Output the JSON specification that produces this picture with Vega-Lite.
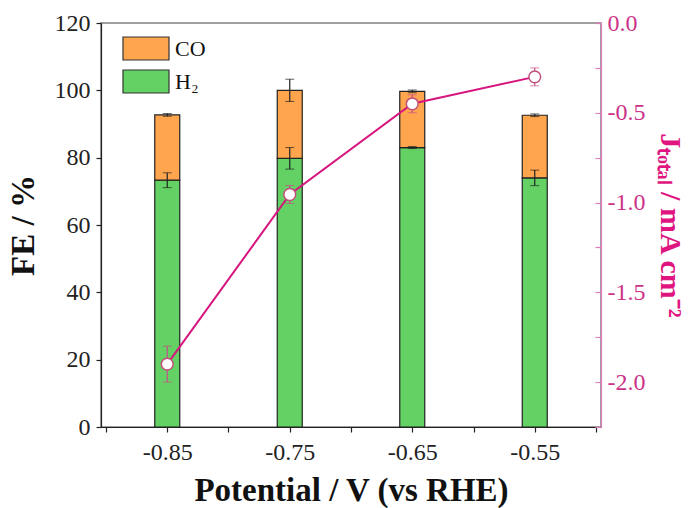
{
  "$schema": "https://vega.github.io/schema/vega-lite/v6.json",
  "width": 500,
  "height": 404,
  "autosize": "none",
  "padding": {"left": 101, "top": 23, "right": 96, "bottom": 81},
  "background": "white",
  "config": {
    "font": "Liberation Serif",
    "view": {"stroke": "#808080", "strokeWidth": 1.5},
    "axis": {"grid": false, "labelFont": "Liberation Serif", "titleFont": "Liberation Serif", "labelFontSize": 24, "labelColor": "#222", "domainColor": "#222", "tickColor": "#222", "titleColor": "#111", "domainWidth": 1.2, "tickWidth": 1.2}
  },
  "datasets": {
    "bars": [
      {"potential": -0.85, "gas": "H₂", "fe": 73.3},
      {"potential": -0.85, "gas": "CO", "fe": 19.4},
      {"potential": -0.75, "gas": "H₂", "fe": 79.8},
      {"potential": -0.75, "gas": "CO", "fe": 20.2},
      {"potential": -0.65, "gas": "H₂", "fe": 83.0},
      {"potential": -0.65, "gas": "CO", "fe": 16.7},
      {"potential": -0.55, "gas": "H₂", "fe": 74.0},
      {"potential": -0.55, "gas": "CO", "fe": 18.6}
    ],
    "barerr": [
      {"potential": -0.85, "fe": 92.7, "err": 0.4},
      {"potential": -0.85, "fe": 73.3, "err": 2.2},
      {"potential": -0.75, "fe": 100.0, "err": 3.3},
      {"potential": -0.75, "fe": 79.8, "err": 3.2},
      {"potential": -0.65, "fe": 99.7, "err": 0.4},
      {"potential": -0.65, "fe": 83.0, "err": 0.3},
      {"potential": -0.55, "fe": 92.6, "err": 0.4},
      {"potential": -0.55, "fe": 74.0, "err": 2.3}
    ],
    "jtotal": [
      {"potential": -0.85, "j": -1.9, "err": 0.1},
      {"potential": -0.75, "j": -0.955, "err": 0.05},
      {"potential": -0.65, "j": -0.45, "err": 0.05},
      {"potential": -0.55, "j": -0.3, "err": 0.05}
    ]
  },
  "layer": [
    {
      "layer": [
        {
          "data": {"name": "bars"},
          "mark": {"type": "bar", "size": 25, "stroke": "#222", "strokeWidth": 1.2},
          "encoding": {
            "x": {
              "field": "potential", "type": "quantitative",
              "title": "Potential / V (vs RHE)",
              "scale": {"domain": [-0.9, -0.5], "nice": false, "zero": false},
              "axis": {
                "values": [-0.9, -0.875, -0.85, -0.825, -0.8, -0.775, -0.75, -0.725, -0.7, -0.675, -0.65, -0.625, -0.6, -0.575, -0.55, -0.525, -0.5],
                "labelExpr": "indexof(['0.85','0.75','0.65','0.55'], format(abs(datum.value), '.2f')) >= 0 ? '-' + format(abs(datum.value), '.2f') : ''",
                "tickSize": 5,
                "labelPadding": 8,
                "titleFontSize": 33,
                "titleFontWeight": "bold",
                "titlePadding": 10
              }
            },
            "y": {
              "field": "fe", "type": "quantitative", "stack": "zero",
              "title": "FE / %",
              "scale": {"domain": [0, 120], "nice": false},
              "axis": {
                "values": [0, 10, 20, 30, 40, 50, 60, 70, 80, 90, 100, 110, 120],
                "labelExpr": "datum.value % 20 == 0 ? datum.label : ''",
                "tickSize": 5,
                "labelPadding": 6,
                "titleFontSize": 33,
                "titleFontWeight": "bold",
                "titlePadding": 14
              }
            },
            "color": {
              "field": "gas", "type": "nominal",
              "scale": {"domain": ["CO", "H₂"], "range": ["#FFA54D", "#63D163"]},
              "legend": {
                "orient": "none", "legendX": 21, "legendY": 13,
                "title": null,
                "symbolType": "M-1,-1H3V1H-1Z",
                "symbolSize": 529,
                "symbolStrokeColor": "#333",
                "symbolStrokeWidth": 1.2,
                "labelFontSize": 22,
                "labelFont": "Liberation Serif",
                "labelColor": "#111",
                "labelOffset": 28,
                "rowPadding": 4
              }
            },
            "order": {"field": "gas", "sort": "descending"}
          }
        },
        {
          "data": {"name": "barerr"},
          "mark": {"type": "errorbar", "color": "#222", "ticks": {"size": 9, "color": "#222"}, "rule": {"strokeWidth": 1.2}},
          "encoding": {
            "x": {"field": "potential", "type": "quantitative", "title": "Potential / V (vs RHE)"},
            "y": {"field": "fe", "type": "quantitative", "title": "FE / %"},
            "yError": {"field": "err"}
          }
        }
      ]
    },
    {
      "layer": [
        {
          "data": {"name": "jtotal"},
          "mark": {"type": "line", "color": "#D6157E", "strokeWidth": 2},
          "encoding": {
            "x": {"field": "potential", "type": "quantitative", "title": "Potential / V (vs RHE)"},
            "y": {
              "field": "j", "type": "quantitative",
              "title": "Jₜₒₜₐₗ / mA cm⁻²",
              "scale": {"domain": [-2.25, 0], "nice": false, "zero": false},
              "axis": {
                "orient": "right",
                "values": [-2.25, -2, -1.75, -1.5, -1.25, -1, -0.75, -0.5, -0.25, 0],
                "labelExpr": "abs(datum.value*2 - round(datum.value*2)) < 0.001 ? (datum.value < 0 ? '-' : '') + format(abs(datum.value), '.1f') : ''",
                "tickSize": -6,
                "labelPadding": 12,
                "domainColor": "#E07BBE",
                "tickColor": "#E07BBE",
                "labelColor": "#CC3388",
                "titleColor": "#E0157F",
                "titleFontSize": 30,
                "titleFontWeight": "bold",
                "titlePadding": 10
              }
            }
          }
        },
        {
          "data": {"name": "jtotal"},
          "mark": {"type": "errorbar", "color": "#C8508A", "ticks": {"size": 9, "color": "#C8508A"}, "rule": {"strokeWidth": 1.2}},
          "encoding": {
            "x": {"field": "potential", "type": "quantitative", "title": "Potential / V (vs RHE)"},
            "y": {"field": "j", "type": "quantitative", "title": "Jₜₒₜₐₗ / mA cm⁻²"},
            "yError": {"field": "err"}
          }
        },
        {
          "data": {"name": "jtotal"},
          "mark": {"type": "point", "shape": "circle", "filled": true, "fill": "white", "stroke": "#C3507D", "strokeWidth": 1.5, "size": 140, "opacity": 1},
          "encoding": {
            "x": {"field": "potential", "type": "quantitative", "title": "Potential / V (vs RHE)"},
            "y": {"field": "j", "type": "quantitative", "title": "Jₜₒₜₐₗ / mA cm⁻²"}
          }
        }
      ]
    }
  ],
  "resolve": {"scale": {"y": "independent"}}
}
